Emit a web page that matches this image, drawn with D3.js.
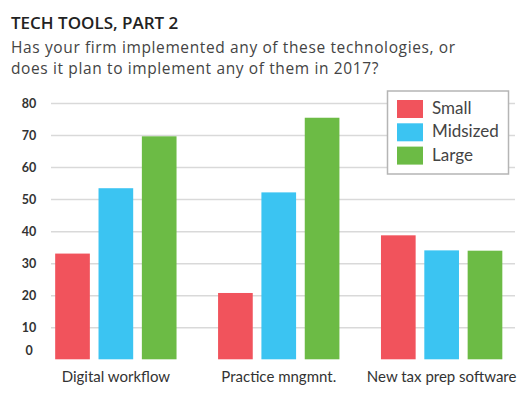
<!DOCTYPE html>
<html><head><meta charset="utf-8">
<script src="https://cdn.jsdelivr.net/npm/d3@7"></script>
<style>
body{margin:0;background:#fff;}
svg{display:block;font-family:Lato,"Open Sans",sans-serif;}
</style></head>
<body>
<svg id="chart" width="531" height="395"></svg>
<script>
const categories = ["Digital workflow", "Practice mngmnt.", "New tax prep software"];
const seriesNames = ["Small", "Midsized", "Large"];
const small = [33, 20.7, 38.7];
const midsized = [53.4, 52.1, 34];
const large = [69.6, 75.4, 33.9];
const yTicks = [0, 10, 20, 30, 40, 50, 60, 70, 80];
const colors = ["#f1535c", "#3bc4f2", "#6cbb45"];

const seriesValues = [small, midsized, large];
const table = categories.map((c, i) => ({category: c, values: seriesNames.map((s, j) => ({series: s, value: seriesValues[j][i]}))}));

const svg = d3.select("#chart");

svg.append("text").attr("x", 11).attr("y", 28.5)
  .attr("font-family", "'Open Sans', sans-serif")
  .attr("font-size", 17).attr("font-weight", 600).attr("fill", "#222")
  .text("TECH TOOLS, PART 2");
const sub = svg.append("text").attr("font-size", 15.5).attr("fill", "#444")
  .attr("letter-spacing", 0.62)
  .attr("font-family", "'Open Sans', sans-serif");
sub.append("tspan").attr("x", 11).attr("y", 52.5).text("Has your firm implemented any of these technologies, or");
sub.append("tspan").attr("x", 11).attr("y", 73.5).text("does it plan to implement any of them in 2017?");

const y = d3.scaleLinear().domain([0, 80]).range([359.3, 103]);
const x0 = d3.scaleBand().domain(categories).range([34, 523.5]).paddingInner(0.255).paddingOuter(0.13);
const x1 = d3.scaleBand().domain(seriesNames).range([0, x0.bandwidth()]).paddingInner(0.2);
const color = d3.scaleOrdinal().domain(seriesNames).range(colors);

// gridlines
const grid = svg.append("g").attr("transform", "translate(51,0)")
  .call(d3.axisLeft(y).tickValues(yTicks.filter(t => t > 0)).tickSize(-(515 - 51)).tickFormat(""));
grid.select(".domain").remove();
grid.selectAll("line").attr("stroke", "#d9d9d9").attr("stroke-width", 1.5);

// y labels
const yAxis = svg.append("g").attr("transform", "translate(29,0)")
  .call(d3.axisLeft(y).tickValues(yTicks).tickSize(0).tickPadding(0));
yAxis.select(".domain").remove();
yAxis.selectAll("text").attr("text-anchor", "middle").attr("font-family", "Lato, sans-serif")
  .attr("font-size", 12.5).attr("font-weight", 700).attr("fill", "#333")
  .attr("dy", d => d === 0 ? "-0.4em" : "0.35em");

// bars
const groups = svg.append("g").selectAll("g").data(table).join("g")
  .attr("transform", d => `translate(${x0(d.category)},0)`);
groups.selectAll("rect").data(d => d.values).join("rect")
  .attr("x", d => x1(d.series)).attr("width", x1.bandwidth())
  .attr("y", d => y(d.value)).attr("height", d => y(0) - y(d.value))
  .attr("fill", d => color(d.series));

// x labels
const xAxis = svg.append("g").attr("transform", "translate(0,369)")
  .call(d3.axisBottom(x0).tickSize(0).tickPadding(0));
xAxis.select(".domain").remove();
xAxis.selectAll("text").attr("font-family", "Lato, sans-serif").attr("font-size", 15)
  .attr("fill", "#333").attr("dy", "0.85em");

// legend
const legend = svg.append("g");
legend.append("rect").attr("x", 387.5).attr("y", 91).attr("width", 121).attr("height", 83)
  .attr("fill", "#fff").attr("stroke", "#b5b5b5").attr("stroke-width", 1.5);
const items = legend.selectAll("g.item").data(seriesNames).join("g").attr("class", "item")
  .attr("transform", (d, i) => `translate(397,${100 + i * 23.3})`);
items.append("rect").attr("width", 26).attr("height", 18).attr("fill", d => color(d));
items.append("text").attr("x", 35).attr("y", 14).attr("font-size", 17).attr("fill", "#444").text(d => d);
</script>
</body></html>
